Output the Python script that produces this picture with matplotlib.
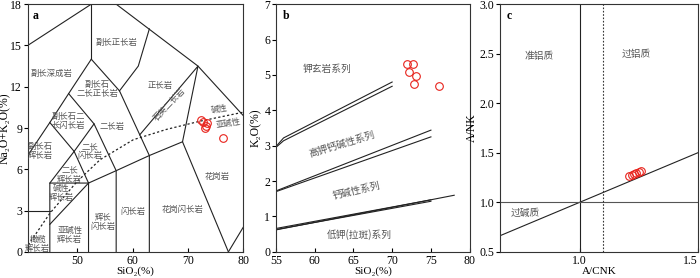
import numpy as np
import matplotlib
matplotlib.use("Agg")
import matplotlib.pyplot as plt

plt.rcParams['font.family'] = ['Liberation Serif', 'Noto Sans CJK SC', 'DejaVu Serif']
plt.rcParams['axes.linewidth'] = 0.8

#====================================================================================================
## data - panel a (TAS, plutonic)
tas_lines = [
    [(41, 15), (52.5, 18), (57, 18), (71.8, 13.5), (80, 9.9)],
    [(52.5, 18), (52.5, 14)],
    [(52.5, 14), (48.4, 11.5), (45, 9.4), (41, 7)],
    [(52.5, 14), (57.6, 11.7), (63, 7), (63, 0)],
    [(63, 16.2), (61, 13.5), (57.6, 11.7)],
    [(61.25, 8.5), (71.8, 13.5), (69, 8), (77.3, 0)],
    [(77.3, 0), (80, 1.8)],
    [(48.4, 11.5), (53, 9.3), (57, 5.9), (57, 0)],
    [(45, 9.4), (49.4, 7.3), (52, 5), (52, 0)],
    [(49.4, 7.3), (53, 9.3)],
    [(45, 5), (49.4, 7.3)],
    [(45, 0), (45, 5), (52, 5), (57, 5.9), (63, 7), (69, 8)],
    [(41, 3), (45, 3)],
    [(45, 2), (52, 5)],
]
alk_curve_x = [41.1, 45.0, 49.9, 54.1, 60.1, 66.1, 72.2, 80.0]
alk_curve_y = [0.5, 2.8, 5.1, 6.7, 8.15, 8.9, 9.5, 10.15]

tas_labels = [
    ("副长正长岩", 57.1, 15.2), ("副长深成岩", 45.3, 13.0),
    ("副长石\n二长正长岩", 53.6, 11.8), ("正长岩", 64.9, 12.1),
    ("副长石二\n长闪长岩", 48.3, 9.5), ("二长岩", 56.2, 9.1),
    ("副长石\n辉长岩", 43.2, 7.3), ("二长\n闪长岩", 52.2, 7.3),
    ("二长\n辉长岩", 48.6, 5.6), ("碱性\n辉长岩", 47.1, 4.3),
    ("橄榄\n辉长岩", 42.8, 0.6), ("亚碱性\n辉长岩", 48.6, 1.2),
    ("辉长\n闪长岩", 54.6, 2.2), ("闪长岩", 60.1, 2.9),
    ("花岗闪长岩", 69.0, 3.1), ("花岗岩", 75.3, 5.5),
]

sio2_a = [72.3, 72.75, 73.2, 73.4, 73.1, 76.3]
alk_a = [9.57, 9.43, 9.18, 9.33, 8.99, 8.29]

## data - panel b (SiO2 - K2O)
k2o_lines = [
    [(55, 2.97), (56, 3.22), (70, 4.8)],
    [(55, 2.95), (56, 3.14), (70, 4.68)],
    [(55, 1.72), (75, 3.44)],
    [(55, 1.70), (75, 3.25)],
    [(55, 0.62), (78, 1.6)],
    [(55, 0.66), (75, 1.47)],
    [(55, 0.63), (75, 1.43)],
]
k2o_labels = [
    ("钾玄岩系列", 61.6, 5.18, 0), ("高钾钙碱性系列", 63.5, 3.05, 17),
    ("钙碱性系列", 65.4, 1.74, 13), ("低钾(拉斑)系列", 65.8, 0.48, 0),
]
sio2_b = [71.9, 72.7, 72.15, 73.05, 72.8, 76.0]
k2o_b = [5.30, 5.32, 5.08, 4.98, 4.74, 4.68]

## data - panel c (A/CNK - A/NK)
acnk = [1.21, 1.22, 1.23, 1.24, 1.25, 1.26]
anK = [1.27, 1.275, 1.285, 1.295, 1.305, 1.315]
c_labels = [("准铝质", 0.83, 2.48), ("过铝质", 1.24, 2.50), ("过碱质", 0.77, 0.895)]

#====================================================================================================
fig = plt.figure(figsize=(7, 2.78), dpi=100)
bottom, height = 0.094, 0.891
ax_a = fig.add_axes([0.0396, bottom, 0.308, height])
ax_b = fig.add_axes([0.394, bottom, 0.277, height])
ax_c = fig.add_axes([0.714, bottom, 0.2828, height])

lk = dict(color='#222222', lw=0.8)
txt_col = '#555555'
cjk = 'Noto Sans CJK SC'
mk = dict(marker='o', ls='none', ms=5.5, mfc='none', mec='#e8231c', mew=0.8)

for ax in (ax_a, ax_b, ax_c):
    ax.tick_params(axis='x', direction='in', length=3, labelsize=8.5, pad=2)
    ax.tick_params(axis='y', direction='out', length=3, labelsize=8.5, pad=1)
    for s in ax.spines.values():
        s.set_color('#333333')

# ===== a: TAS =====
for seg in tas_lines:
    xs, ys = zip(*seg)
    ax_a.plot(xs, ys, **lk)
ax_a.plot(alk_curve_x, alk_curve_y, color='#222222', lw=0.9, ls=(0, (1.8, 1.8)))
for t, x, y in tas_labels:
    ax_a.text(x, y, t, fontsize=6, color=txt_col, ha='center', va='center',
              linespacing=1.0, family=cjk)
ax_a.text(66.7, 10.7, "石英二长岩", fontsize=6, color=txt_col, ha='center',
          va='center', rotation=47, family=cjk)
ax_a.text(75.6, 10.4, "碱性", fontsize=6, color=txt_col, ha='center',
          va='center', rotation=10, family=cjk)
ax_a.text(77.3, 9.35, "亚碱性", fontsize=6, color=txt_col, ha='center',
          va='center', rotation=10, family=cjk)
ax_a.plot(sio2_a, alk_a, **mk)
ax_a.set_xlim(41, 80)
ax_a.set_ylim(0, 18)
ax_a.set_xticks([50, 60, 70, 80])
ax_a.set_yticks(np.arange(0, 19, 3))
ax_a.set_xlabel("SiO₂(%)", fontsize=8, labelpad=0)
ax_a.set_ylabel("Na₂O+K₂O(%)", fontsize=8.5)
ax_a.yaxis.set_label_coords(-0.078, 0.5)
ax_a.text(0.025, 0.975, "a", transform=ax_a.transAxes, fontsize=8.5,
          fontweight='bold', ha='left', va='top')

# ===== b: SiO2 - K2O =====
for seg in k2o_lines:
    xs, ys = zip(*seg)
    ax_b.plot(xs, ys, **lk)
for t, x, y, r in k2o_labels:
    ax_b.text(x, y, t, fontsize=7, color=txt_col, ha='center', va='center',
              rotation=r, family=cjk)
ax_b.plot(sio2_b, k2o_b, **mk)
ax_b.set_xlim(55, 80)
ax_b.set_ylim(0, 7)
ax_b.set_xticks(np.arange(55, 81, 5))
ax_b.set_yticks(np.arange(0, 8, 1))
ax_b.set_xlabel("SiO₂(%)", fontsize=8, labelpad=0)
ax_b.set_ylabel("K₂O(%)", fontsize=8.5, labelpad=2)
ax_b.text(0.035, 0.975, "b", transform=ax_b.transAxes, fontsize=8.5,
          fontweight='bold', ha='left', va='top')

# ===== c: A/CNK - A/NK =====
xmin_c, xmax_c = 0.662, 1.5
ax_c.plot([xmin_c, xmax_c], [xmin_c, xmax_c], **lk)
ax_c.axvline(1.0, **lk)
ax_c.axhline(1.0, color='#555555', lw=0.8)
ax_c.axvline(1.1, color='#333333', lw=0.8, ls=(0, (1.5, 1.5)))
for t, x, y in c_labels:
    ax_c.text(x, y, t, fontsize=7, color=txt_col, ha='center', va='center',
              family=cjk)
ax_c.plot(acnk, anK, **mk)
ax_c.set_xlim(xmin_c, xmax_c)
ax_c.set_ylim(0.5, 3.0)
ax_c.set_xticks([1.0, 1.5])
ax_c.set_yticks(np.arange(0.5, 3.01, 0.5))
ax_c.xaxis.set_major_formatter(matplotlib.ticker.FormatStrFormatter('%.1f'))
ax_c.yaxis.set_major_formatter(matplotlib.ticker.FormatStrFormatter('%.1f'))
ax_c.set_xlabel("A/CNK", fontsize=8, labelpad=0)
ax_c.set_ylabel("A/NK", fontsize=8.5, labelpad=1)
ax_c.text(0.035, 0.975, "c", transform=ax_c.transAxes, fontsize=8.5,
          fontweight='bold', ha='left', va='top')
ax_c.get_xticklabels()[-1].set_horizontalalignment('right')

fig.savefig("out.png", dpi=100)
